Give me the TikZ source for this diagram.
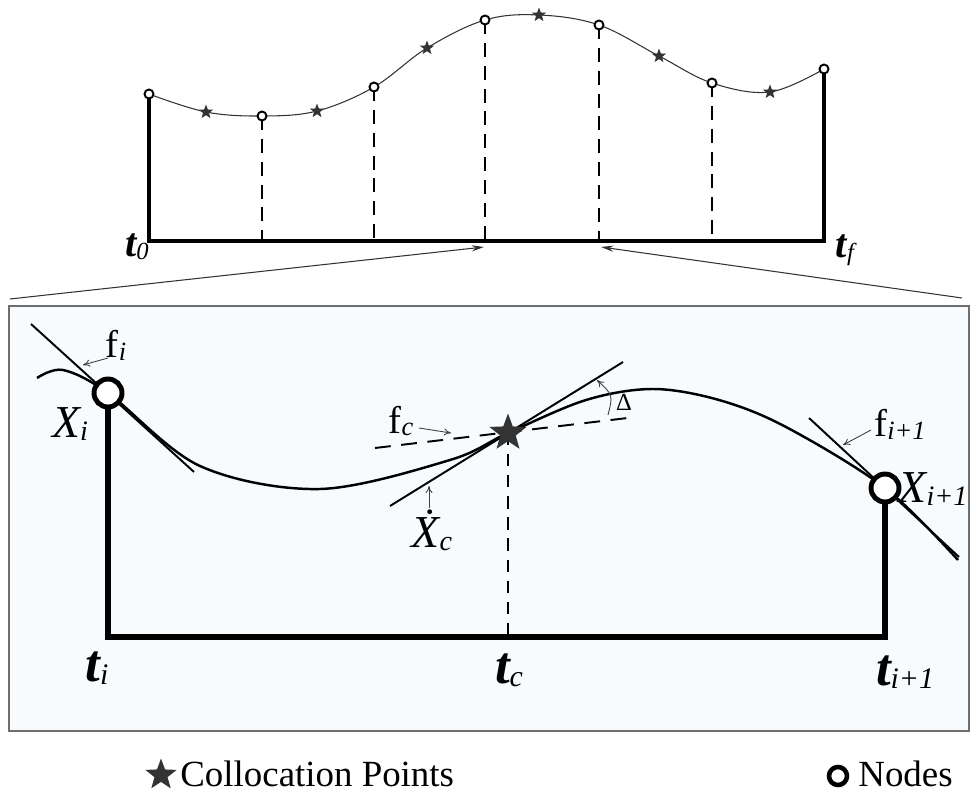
\documentclass[tikz,border=0pt]{standalone}
\usepackage{fontspec}
\setmainfont{Liberation Serif}
\usetikzlibrary{shapes.geometric,arrows.meta}
\definecolor{boxfill}{HTML}{F7FBFE}
\definecolor{boxline}{HTML}{6E6E6E}
\definecolor{stargray}{HTML}{333333}
\newcommand{\lowsub}[2]{\raisebox{-0.35ex}{\fontsize{#1}{#1}\selectfont\itshape #2}}
\newcommand{\tlbl}[3]{{\fontsize{#1}{#1}\selectfont\bfseries\itshape t}\lowsub{#2}{#3}}
\newcommand{\flbl}[1]{{\fontsize{22}{22}\selectfont f}\lowsub{15}{#1}}
\newcommand{\xlbl}[2]{{\fontsize{26}{26}\selectfont\itshape #1}\lowsub{16}{#2}}

\begin{document}
\begin{tikzpicture}[x=0.02cm,y=-0.02cm]
  \tikzstyle{dot}=[circle,draw,fill=white,line width=1.1pt,minimum size=0.18cm,inner sep=0pt]
  \tikzstyle{cstar}=[star,star points=5,star point ratio=2.4,fill=stargray,minimum size=0.3cm,inner sep=0pt]
  \tikzstyle{bignode}=[circle,draw,fill=white,line width=2.8pt,minimum size=0.56cm,inner sep=0pt]
  \tikzstyle{bigstar}=[cstar,minimum size=0.78cm]
  \tikzstyle{pointer}=[-{To[length=4pt,width=4pt]},line width=0.5pt,black!75]
  \tikzstyle{tangent}=[line width=1.1pt]
  \tikzstyle{lab}=[inner sep=0pt]
  \useasboundingbox (0,0) rectangle (972,793);

  % zoom window
  \draw[boxline,fill=boxfill,line width=0.9pt] (9,306) rectangle (969,731);
  \coordinate (zl) at (10,299);
  \coordinate (zr) at (962,298);
  \coordinate (za) at (484,247);
  \coordinate (zb) at (601,247);
  \draw[-{Stealth[length=7pt,width=3.5pt]},line width=0.6pt,black!80] (zl) -- (za);
  \draw[-{Stealth[length=7pt,width=3.5pt]},line width=0.6pt,black!80] (zr) -- (zb);

  % whole trajectory
  \foreach \x/\y [count=\k from 0] in {149/94,262/116,374/87,485/20,599/25,712/83,824/69}
    \coordinate (p\k) at (\x,\y);
  \coordinate (b0) at (149,241);
  \coordinate (b6) at (824,241);
  \draw[line width=1.8pt] (p0) -- (b0) -- (b6) -- (p6);
  \foreach \k in {1,...,5}
    \draw[dash pattern=on 8pt off 5pt,line width=0.9pt] (p\k) -- (p\k |- b0);
  \draw[line width=0.6pt,black!80] plot[smooth,tension=0.6] coordinates {(149,94) (206,112) (262,116) (317,111) (374,87) (427,48) (485,20) (539,15) (599,25) (659,56) (712,83) (770,92) (824,69)};
  \foreach \k in {0,...,6}
    \node[dot] (n\k) at (p\k) {};
  \foreach \x/\y [count=\k] in {206/112,317/111,427/48,539/15,659/56,770/92}
    \node[cstar] (s\k) at (\x,\y) {};
  \node[lab] (t0) at (137,247) {\tlbl{23}{14}{0}};
  \node[lab] (tf) at (845,250) {\tlbl{23}{14}{f}};

  % one interval
  \coordinate (xi) at (108,393);
  \coordinate (xj) at (885,488);
  \coordinate (xc) at (508,433);
  \coordinate (bi) at (108,637);
  \coordinate (bj) at (885,637);
  \draw[line width=3.4pt] (xi) -- (bi) -- (bj) -- (xj);
  \draw[dash pattern=on 7pt off 5pt,line width=0.9pt] (xc) -- (xc |- bi);
  \draw[line width=1.4pt] plot[smooth,tension=0.55] coordinates {(37,378) (63,370) (108,393) (200,466) (320,489) (450,460) (508,433) (586,400) (653,389) (719,400) (786,427) (885,488) (958,560)};
  \coordinate (ta1) at (31,324);  \coordinate (ta2) at (194,472);
  \coordinate (tc1) at (390,506); \coordinate (tc2) at (623,362);
  \coordinate (fc1) at (375,448); \coordinate (fc2) at (636,417);
  \coordinate (tb1) at (809,418); \coordinate (tb2) at (959,557);
  \draw[tangent] (ta1) -- (ta2);
  \draw[tangent] (tc1) -- (tc2);
  \draw[tangent] (tb1) -- (tb2);
  \draw[tangent,dash pattern=on 9pt off 6pt] (fc1) -- (fc2);
  \node[bignode] (Xi) at (xi) {};
  \node[bignode] (Xj) at (xj) {};
  \node[bigstar] (Xc) at (xc) {};

  % labels and pointers
  \node[lab] (fi) at (116,345) {\flbl{i}};
  \node[lab] (lxi) at (70,424) {\xlbl{X}{i}};
  \node[lab] (fcl) at (401,421) {\flbl{c}};
  \node[lab] (lxc) at (432,530) {\xlbl{\.{X}}{c}};
  \node[lab] (fj) at (900,424) {\flbl{i+1}};
  \node[lab] (lxj) at (933,489) {\xlbl{X}{i+1}};
  \node[lab,font=\fontsize{14}{14}\selectfont] (dl) at (624,402) {Δ};
  \coordinate (pa1) at (108,358); \coordinate (pa2) at (83,365);
  \coordinate (pb1) at (419,428); \coordinate (pb2) at (451,433);
  \coordinate (pc1) at (429,508); \coordinate (pc2) at (429,486);
  \coordinate (pd1) at (871,430); \coordinate (pd2) at (843,445);
  \coordinate (da) at (597,380);  \coordinate (db) at (608,415);
  \draw[pointer] (pa1) -- (pa2);
  \draw[pointer] (pb1) -- (pb2);
  \draw[pointer] (pc1) -- (pc2);
  \draw[pointer] (pd1) -- (pd2);
  \draw[pointer,{To[length=4pt,width=4pt]}-] (da) .. controls (613,395) .. (db);
  \node[lab] (ti) at (97,668) {\tlbl{30}{17}{i}};
  \node[lab] (tc) at (509,670) {\tlbl{30}{17}{c}};
  \node[lab] (tj) at (905,672) {\tlbl{30}{17}{i+1}};

  % legend
  \node[cstar,minimum size=0.66cm] (ls) at (161,775) {};
  \node[lab,anchor=base west,font=\fontsize{21}{21}\selectfont] (lt) at (180,786) {Collocation Points};
  \node[circle,draw,line width=2.6pt,minimum size=0.36cm,inner sep=0pt] (ln) at (838,776) {};
  \node[lab,anchor=base west,font=\fontsize{21}{21}\selectfont] (lnt) at (858,786) {Nodes};
\end{tikzpicture}
\end{document}
